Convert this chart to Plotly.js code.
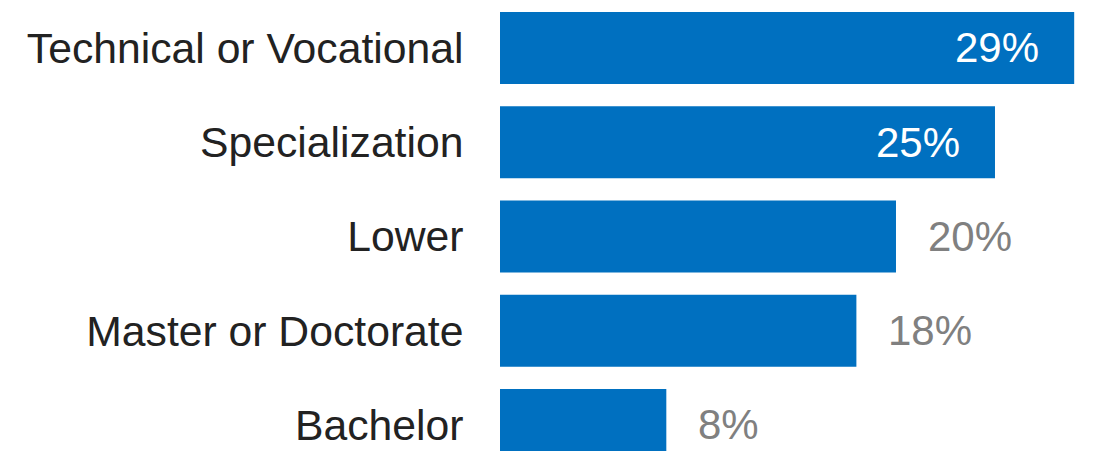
<!DOCTYPE html>
<html>
<head>
<meta charset="utf-8">
<script src="https://cdn.plot.ly/plotly-3.0.1.min.js"></script>
<style>html,body{margin:0;padding:0;background:#fff;}#chart{width:1093px;height:451px;}</style>
</head>
<body>
<div id="chart"></div>
<script>
var categories = ["Technical or Vocational", "Specialization", "Lower", "Master or Doctorate", "Bachelor"];
var values = [29, 25, 20, 18, 8.4];
var valueLabels = ["29%", "25%", "20%", "18%", "8%"];
var labelInside = [true, true, false, false, false];

var annotations = categories.map(function (c, i) {
  var inside = labelInside[i];
  return {
    x: values[i], y: c, xref: 'x', yref: 'y',
    text: valueLabels[i], showarrow: false,
    xanchor: inside ? 'right' : 'left',
    xshift: inside ? -33 : 30,
    font: {family: 'Liberation Sans, Arial, sans-serif', size: 42, color: inside ? '#ffffff' : '#808080'}
  };
});

var trace = {
  type: 'bar', orientation: 'h',
  x: values, y: categories,
  marker: {color: '#0070C0'},
  hoverinfo: 'none'
};

var layout = {
  width: 1093, height: 451,
  margin: {l: 500, r: 0, t: 0, b: 0, pad: 0},
  paper_bgcolor: '#ffffff', plot_bgcolor: '#ffffff',
  bargap: 0.236,
  showlegend: false,
  xaxis: {range: [0, 29.95], visible: false, fixedrange: true},
  yaxis: {
    type: 'category', categoryorder: 'array', categoryarray: categories,
    range: [4.276, -0.509],
    showgrid: false, zeroline: false, showline: false,
    ticks: 'outside', ticklen: 27, tickcolor: 'rgba(0,0,0,0)',
    tickfont: {family: 'Liberation Sans, Arial, sans-serif', size: 42.7, color: '#222222'},
    fixedrange: true
  },
  annotations: annotations
};

Plotly.newPlot('chart', [trace], layout, {displayModeBar: false, staticPlot: true});
</script>
</body>
</html>
